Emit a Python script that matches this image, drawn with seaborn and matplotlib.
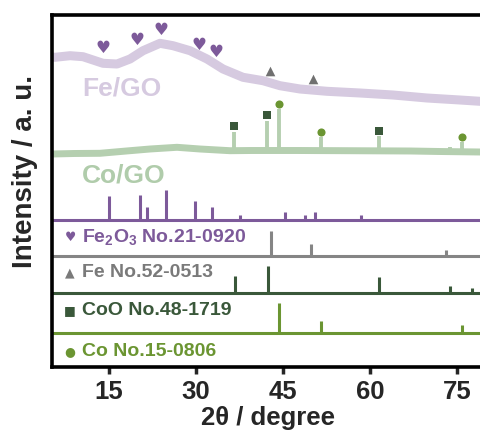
import numpy as np
import pandas as pd
import matplotlib
matplotlib.use('Agg')
import matplotlib.pyplot as plt
import seaborn as sns

# values (2theta in degree, intensity in a.u.)
fe_go_x = [5.17, 5.69, 8.28, 10.52, 13.97, 16.38, 18.62, 20.86, 23.79, 26.03, 28.97,
           31.90, 34.66, 38.10, 41.55, 44.48, 47.93, 52.59, 58.28, 63.97, 69.83, 75.52, 78.97]
fe_go_y = [310, 309.7, 311.3, 310.3, 303.7, 303, 308, 316.3, 323.7, 321.3, 316.3,
           308, 298, 289.7, 286.3, 281.3, 278, 275.7, 274, 272, 269, 267, 265.7]

co_go_x = [5.17, 9.0, 13.45, 18.0, 22.07, 26.72, 30.69, 35.86, 39.5, 47.5,
           56.0, 67.0, 72.0, 78.97]
co_go_y = [213, 213.5, 213.7, 216, 218, 219.7, 218, 216.3, 216.5, 216.5,
           216.3, 216, 215.5, 215]
# sharp reflections on the Co/GO pattern
co_peak_x = [36.55, 42.29, 44.31, 51.55, 61.50, 73.79, 75.81, 77.53]
co_peak_top = [234.7, 246.3, 258, 229.7, 231.3, 220, 224.7, 218.5]

# peak markers
heart_x = [14.02, 19.88, 23.97, 30.52, 33.45]
heart_y = [320.3, 328, 338, 323, 316.3]
tri_x = [42.76, 50.22]
tri_y = [296.3, 288]
sq_x = [36.55, 42.29, 61.50]
sq_y = [241.3, 252, 236.3]
dot_x = [44.31, 51.55, 75.81]
dot_y = [263, 235.3, 230.3]

# standard cards: stick positions, heights and baseline
fe2o3_pos = [15.0, 20.34, 21.5, 24.83, 29.84, 32.76, 37.59, 45.35, 48.79, 50.47, 58.45]
fe2o3_h = [24, 25, 13, 30, 19, 13, 5, 8, 5, 8, 5]
fe2o3_base = 147
fe_pos = [43.0, 49.89, 73.1]
fe_h = [25, 12, 6]
fe_base = 111
coo_pos = [36.72, 42.47, 61.6, 73.79, 77.64]
coo_h = [17, 27, 16, 7, 5]
coo_base = 74
co_pos = [44.29, 51.55, 75.9]
co_h = [30, 12, 8]
co_base = 34

purple = '#7d5a9a'
lavender = '#d6cae0'
gray = '#858585'
dkgreen = '#3a583a'
olive = '#6b9532'
ltgreen = '#b5cfb0'

sns.set_style('ticks')
plt.rcParams['font.family'] = ['Liberation Sans', 'DejaVu Sans']
plt.rcParams['font.weight'] = 'bold'
plt.rcParams['mathtext.default'] = 'regular'

fig = plt.figure(figsize=(4.8, 4.35), dpi=100)
ax = fig.add_axes([52/480, 67/435, 428/480, 352/435])

# measured patterns
ax.vlines(co_peak_x, 215, co_peak_top, color=ltgreen, lw=2.8)
sns.lineplot(x=co_go_x, y=co_go_y, ax=ax, color=ltgreen, lw=5, sort=False, estimator=None)
sns.lineplot(x=fe_go_x, y=fe_go_y, ax=ax, color=lavender, lw=6.5, sort=False, estimator=None)

for x, y in zip(heart_x, heart_y):
    ax.text(x, y, '♥', family='DejaVu Sans', fontsize=12, color=purple, ha='center', va='center')
ax.scatter(tri_x, tri_y, marker='^', s=48, color='#707070', lw=0, zorder=5)
ax.scatter(sq_x, sq_y, marker='s', s=30, color=dkgreen, lw=0, zorder=5)
ax.scatter(dot_x, dot_y, marker='o', s=34, color=olive, lw=0, zorder=5)

ax.text(10.4, 279, 'Fe/GO', fontsize=19, color=lavender, va='center')
ax.text(10.3, 192, 'Co/GO', fontsize=19, color='#b0ccab', va='center')

# reference cards
cards = [(fe2o3_pos, fe2o3_h, fe2o3_base, purple),
         (fe_pos, fe_h, fe_base, gray),
         (coo_pos, coo_h, coo_base, dkgreen),
         (co_pos, co_h, co_base, olive)]
for pos, h, base, c in cards:
    ax.axhline(base, color=c, lw=2.2)
    ax.vlines(pos, base, np.array(h) + base, color=c, lw=2.2)

card_labels = ['Fe$_2$O$_3$ No.21-0920', 'Fe No.52-0513', 'CoO No.48-1719', 'Co No.15-0806']
card_syms = ['♥', '▲', '■', '●']
card_cols = [purple, '#7a7a7a', dkgreen, olive]
card_y = [130.7, 95, 57, 16]
for lab, sym, c, y in zip(card_labels, card_syms, card_cols, card_y):
    ax.text(8.3, y, sym, family='DejaVu Sans', fontsize=9, color=c, ha='center', va='center')
    ax.text(10.3, y, lab, fontsize=14, color=c, va='center')

ax.set_xlim(5.17, 78.97)
ax.set_ylim(0, 352)
ax.set_xticks([15, 30, 45, 60, 75])
ax.set_yticks([])
ax.tick_params(axis='x', direction='out', length=5, width=2.5, labelsize=18.5, pad=3.5)
for lab in ax.get_xticklabels():
    lab.set_fontweight('bold')
for s in ['left', 'top', 'bottom']:
    ax.spines[s].set_linewidth(2.6)
    ax.spines[s].set_color('black')
ax.spines['right'].set_visible(False)

fig.text(268/480, 1 - 425/435, '2θ / degree', fontsize=18.5, fontweight='bold',
         ha='center', va='baseline')
fig.text(25/480, 1 - 171/435, 'Intensity / a. u.', rotation=90, fontsize=20,
         fontweight='bold', ha='center', va='center')

fig.savefig('out.png', dpi=100)
